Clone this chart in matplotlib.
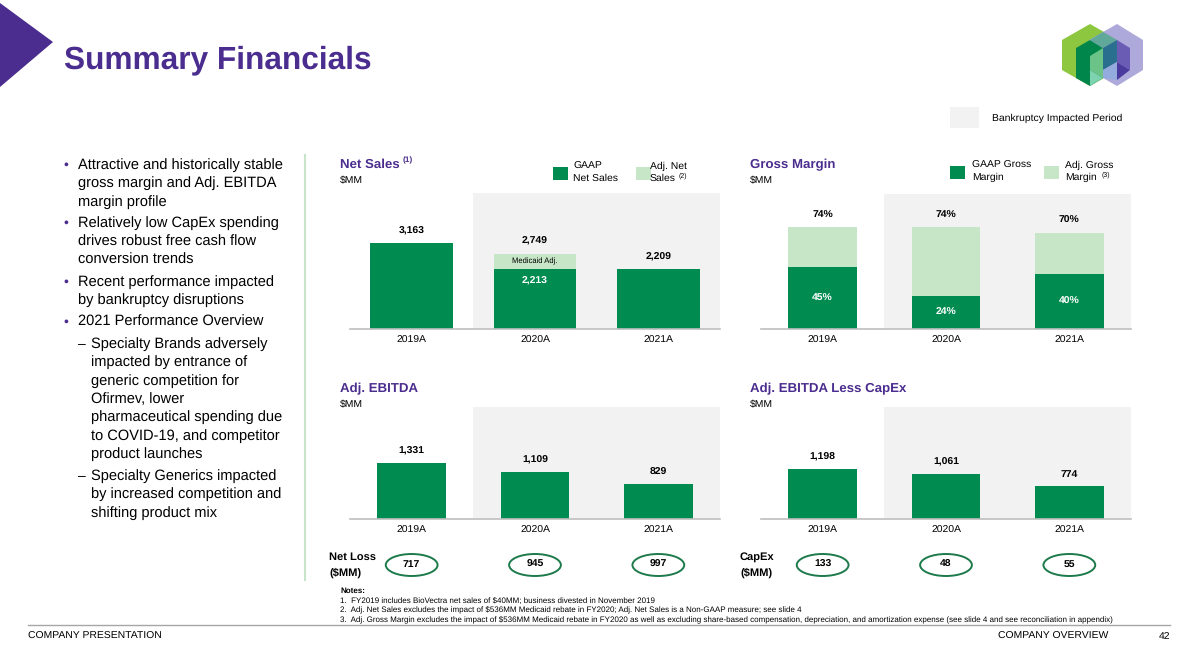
import matplotlib
matplotlib.use('Agg')
import matplotlib.pyplot as plt
import matplotlib.transforms as mtrans
from matplotlib.patches import Ellipse, Polygon, Rectangle
from matplotlib.lines import Line2D

plt.rcParams['font.family'] = ['Liberation Sans', 'DejaVu Sans']
plt.rcParams['text.hinting'] = 'no_hinting'

# data
years = ['2019A', '2020A', '2021A']
gaap_sales = [3163, 2213, 2209]
adj_sales = [3163, 2749, 2209]
gaap_gm = [45, 24, 40]
adj_gm = [74, 74, 70]
ebitda = [1331, 1109, 829]
ebitda_less_capex = [1198, 1061, 774]
net_loss = [717, 945, 997]
capex = [133, 48, 55]

bullets = [
    ('•', ['Attractive and historically stable', 'gross margin and Adj. EBITDA', 'margin profile']),
    ('•', ['Relatively low CapEx spending', 'drives robust free cash flow', 'conversion trends']),
    ('•', ['Recent performance impacted', 'by bankruptcy disruptions']),
    ('•', ['2021 Performance Overview']),
    ('–', ['Specialty Brands adversely', 'impacted by entrance of', 'generic competition for',
           'Ofirmev, lower', 'pharmaceutical spending due', 'to COVID-19, and competitor',
           'product launches']),
    ('–', ['Specialty Generics impacted', 'by increased competition and', 'shifting product mix']),
]
notes = [
    '1.  FY2019 includes BioVectra net sales of $40MM; business divested in November 2019',
    '2.  Adj. Net Sales excludes the impact of $536MM Medicaid rebate in FY2020; Adj. Net Sales is a Non-GAAP measure; see slide 4',
    '3.  Adj. Gross Margin excludes the impact of $536MM Medicaid rebate in FY2020 as well as excluding share-based compensation, '
    'depreciation, and amortization expense (see slide 4 and see reconciliation in appendix)',
]

DARK = '#008C50'
LIGHT = '#C7E6C7'
PURPLE = '#4B2D8F'
SHADE = '#F2F2F2'

W, H = 1196, 672
fig = plt.figure(figsize=(W / 100, H / 100), dpi=100)


def fx(x):
    return x / W


def fy(y):
    return 1 - y / H


def txt(x, y, s, **kw):
    kw.setdefault('va', 'center')
    kw.setdefault('color', 'black')
    fig.text(fx(x), fy(y), s, **kw)


def poly(pts, c, **kw):
    fig.add_artist(Polygon([(fx(a), fy(b)) for a, b in pts], closed=True,
                           transform=fig.transFigure, color=c, lw=0, **kw))


def make_ax(x0, y0, x1, y1, ymax):
    ax = fig.add_axes([fx(x0), fy(y1), (x1 - x0) / W, (y1 - y0) / H])
    ax.set_xlim(-0.5, 2.5)
    ax.set_ylim(0, ymax)
    ax.axvspan(0.5, 2.5, color=SHADE, zorder=0, lw=0)
    for s in ['top', 'right', 'left']:
        ax.spines[s].set_visible(False)
    ax.spines['bottom'].set_color('#BFBFBF')
    ax.spines['bottom'].set_linewidth(1.2)
    ax.set_yticks([])
    ax.set_xticks(range(3))
    ax.set_xticklabels(years, fontsize=7.5)
    ax.tick_params(axis='x', length=0, pad=5)
    ax.patch.set_alpha(0)
    return ax


def label_top(ax, vals, fmt, off=12):
    for i, v in enumerate(vals):
        ax.annotate(fmt(v), (i, v), xytext=(0, off), textcoords='offset pixels',
                    ha='center', va='center', fontsize=7.5, fontweight='bold')


# title and decorations
poly([(0, 3), (53, 42), (0, 87)], PURPLE)
txt(64, 60, 'Summary Financials', fontsize=22.8, fontweight='bold', color=PURPLE)

# logo: two overlapping isometric hexagons with a few inner faces
poly([(1062, 40), (1090, 24), (1118, 40), (1118, 70), (1090, 86), (1062, 70)], '#8DC63F')
poly([(1089, 40), (1117, 24), (1143, 40), (1143, 70), (1117, 86), (1089, 70)], '#A9A5D8', alpha=0.95)
poly([(1076, 48), (1090, 40), (1103, 48), (1103, 78), (1090, 86), (1076, 78)], '#00854A')
poly([(1090, 40), (1103, 32), (1117, 40), (1103, 48)], '#5FA89A')
poly([(1103, 48), (1117, 40), (1117, 62), (1103, 70)], '#2B6F8F')
poly([(1117, 40), (1130, 48), (1130, 70), (1117, 62)], '#6A5BB5')
poly([(1090, 56), (1103, 48), (1103, 78), (1090, 70)], '#6CC387')
poly([(1103, 70), (1117, 62), (1117, 80), (1103, 78)], '#94ABDD')
poly([(1117, 62), (1130, 70), (1117, 80)], '#4A3A9E')
poly([(1090, 70), (1103, 78), (1090, 86)], '#7DD3B0')

# bankruptcy legend
fig.add_artist(Rectangle((fx(950), fy(128)), 29 / W, 21 / H, transform=fig.transFigure,
                         color=SHADE, lw=0))
txt(992, 118, 'Bankruptcy Impacted Period', fontsize=7.5)

# bullets
y = 165
for mark, lines in bullets:
    if mark == '•':
        mx, tx = 63, 78
    else:
        mx, tx = 78, 91
    txt(mx, y, mark, fontsize=10, color=PURPLE if mark == '•' else 'black')
    for ln in lines:
        txt(tx, y, ln, fontsize=10.5)
        y += 18.4
    y += 3.3

fig.add_artist(Line2D([fx(305), fx(305)], [fy(155), fy(580)], transform=fig.transFigure,
                      color='#C9E5C9', lw=1.5))

# Net Sales
txt(340, 165, 'Net Sales', fontsize=9.5, fontweight='bold', color=PURPLE)
txt(403, 160, '(1)', fontsize=6, fontweight='bold', color=PURPLE)
txt(340, 181, '$MM', fontsize=7.5)
ax1 = make_ax(350, 193, 720, 329, 5000)
ax1.bar(range(3), gaap_sales, width=0.67, color=DARK, zorder=2)
diff = [a - g for a, g in zip(adj_sales, gaap_sales)]
ax1.bar(range(3), diff, bottom=gaap_sales, width=0.67, color=LIGHT, zorder=2)
for i, v in enumerate(adj_sales):
    if diff[i] > 0:
        ax1.annotate(f'{v:,}', (i, v), xytext=(0, 13), textcoords='offset pixels',
                     ha='center', va='center', fontsize=7.5, fontweight='bold')
        ax1.text(i, gaap_sales[i] + diff[i] / 2, 'Medicaid Adj.', ha='center', va='center',
                 fontsize=5.5, zorder=3)
        ax1.annotate(f'{gaap_sales[i]:,}', (i, gaap_sales[i]), xytext=(0, -12),
                     textcoords='offset pixels', ha='center', va='center', fontsize=7.5,
                     fontweight='bold', color='white')
    else:
        ax1.annotate(f'{v:,}', (i, v), xytext=(0, 12), textcoords='offset pixels',
                     ha='center', va='center', fontsize=7.5, fontweight='bold')
fig.add_artist(Rectangle((fx(553), fy(180)), 15 / W, 13 / H, transform=fig.transFigure, color=DARK, lw=0))
txt(573, 166, 'GAAP', fontsize=7.5)
txt(573, 178, 'Net Sales', fontsize=7.5)
fig.add_artist(Rectangle((fx(636), fy(180)), 15 / W, 13 / H, transform=fig.transFigure, color=LIGHT, lw=0))
txt(650, 166, 'Adj. Net', fontsize=7.5)
txt(650, 178, 'Sales', fontsize=7.5)
txt(679, 176, '(2)', fontsize=5)

# Gross Margin
txt(750, 165, 'Gross Margin', fontsize=9.5, fontweight='bold', color=PURPLE)
txt(750, 181, '$MM', fontsize=7.5)
ax2 = make_ax(761, 194, 1131, 329, 98)
ax2.bar(range(3), adj_gm, width=0.556, color=LIGHT, zorder=2)
ax2.bar(range(3), gaap_gm, width=0.556, color=DARK, zorder=2)
label_top(ax2, adj_gm, lambda v: f'{v}%')
for i, v in enumerate(gaap_gm):
    ax2.text(i, v / 2, f'{v}%', ha='center', va='center', fontsize=7.5,
             fontweight='bold', color='white')
fig.add_artist(Rectangle((fx(950), fy(179)), 15 / W, 13 / H, transform=fig.transFigure, color=DARK, lw=0))
txt(972, 165, 'GAAP Gross', fontsize=7.5)
txt(972, 177, 'Margin', fontsize=7.5)
fig.add_artist(Rectangle((fx(1044), fy(179)), 15 / W, 13 / H, transform=fig.transFigure, color=LIGHT, lw=0))
txt(1065, 165, 'Adj. Gross', fontsize=7.5)
txt(1065, 177, 'Margin', fontsize=7.5)
txt(1102, 175, '(3)', fontsize=5)

# Adj. EBITDA
txt(340, 389, 'Adj. EBITDA', fontsize=9.5, fontweight='bold', color=PURPLE)
txt(340, 405, '$MM', fontsize=7.5)
ax3 = make_ax(350, 407, 720, 519, 2660)
ax3.bar(range(3), ebitda, width=0.556, color=DARK, zorder=2)
label_top(ax3, ebitda, lambda v: f'{v:,}')

# Adj. EBITDA less CapEx
txt(750, 389, 'Adj. EBITDA Less CapEx', fontsize=9.5, fontweight='bold', color=PURPLE)
txt(750, 405, '$MM', fontsize=7.5)
ax4 = make_ax(761, 407, 1131, 519, 2660)
ax4.bar(range(3), ebitda_less_capex, width=0.556, color=DARK, zorder=2)
label_top(ax4, ebitda_less_capex, lambda v: f'{v:,}')


def ovals(ax, vals):
    tr = mtrans.blended_transform_factory(ax.transData, fig.transFigure)
    for i, v in enumerate(vals):
        ax.add_patch(Ellipse((i, fy(565)), 0.42, 22 / H, transform=tr, clip_on=False,
                             facecolor='white', edgecolor='#1D7A4B', lw=1.4))
        ax.text(i, fy(564), f'{v:,}', transform=tr, ha='center', va='center',
                fontsize=7.5, fontweight='bold')


txt(329, 557, 'Net Loss', fontsize=8, fontweight='bold')
txt(329, 573, '($MM)', fontsize=8, fontweight='bold')
ovals(ax3, net_loss)
txt(740, 557, 'CapEx', fontsize=8, fontweight='bold')
txt(740, 573, '($MM)', fontsize=8, fontweight='bold')
ovals(ax4, capex)

# notes
txt(340, 591, 'Notes:', fontsize=5.8, fontweight='bold')
for k, n in enumerate(notes):
    txt(340, 601 + k * 9.5, n, fontsize=5.8)

fig.add_artist(Line2D([fx(28), fx(1170)], [fy(625), fy(625)], transform=fig.transFigure,
                      color='#A6A6A6', lw=1))
txt(28, 636, 'COMPANY PRESENTATION', fontsize=7.5)
txt(1108, 636, 'COMPANY OVERVIEW', fontsize=7.5, ha='right')
txt(1170, 636, '42', fontsize=7.5, ha='right')

fig.savefig('out.png', dpi=100)
